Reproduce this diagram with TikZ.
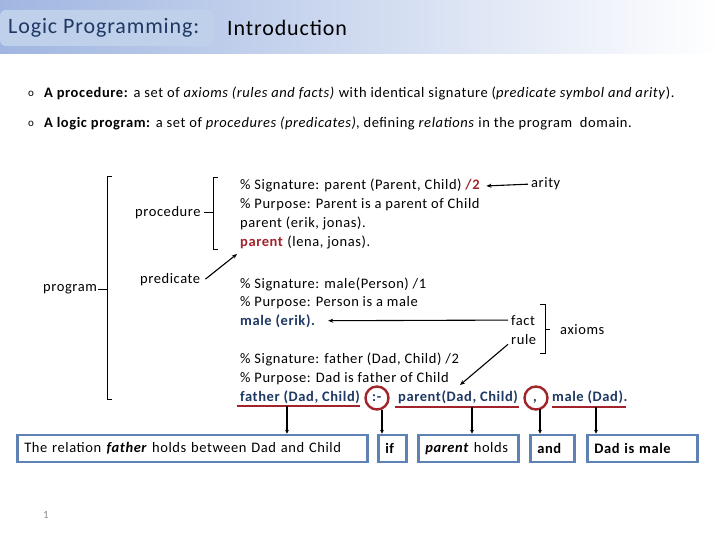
\documentclass[tikz,border=0pt]{standalone}
\usepackage{fontspec}
\setmainfont{Carlito}[LetterSpace=4]
\usetikzlibrary{arrows.meta}
\definecolor{navy}{HTML}{1F3864}
\definecolor{dred}{HTML}{A0242A}
\definecolor{bandL}{HTML}{A0B6E1}
\definecolor{tbox}{HTML}{BED0EA}
\definecolor{boxb}{HTML}{5F82B4}
\definecolor{pgray}{HTML}{8C8C8C}
\begin{document}
\begin{tikzpicture}[x=1pt,y=-1pt,
  txt/.style={font=\fontsize{14.5}{17}\selectfont, inner sep=0pt, anchor=base west},
  hl/.style={txt, font=\fontsize{14.5}{17}\selectfont\bfseries, text=navy},
  brk/.style={line width=0.8pt},
  arr/.style={line width=1.1pt, -{Stealth[length=5pt,width=4pt]}},
  varr/.style={line width=1.1pt, -{Stealth[length=4pt,width=4pt]}},
  uline/.style={dred, line width=2.6pt},
  ring/.style={dred, line width=2.4pt},
  expl/.style={draw=boxb, line width=2.6pt, fill=white, font=\fontsize{14.5}{17}\selectfont, inner xsep=7pt, inner ysep=0pt, minimum height=27pt, align=left, anchor=west},
]
\useasboundingbox (0,0) rectangle (720,540);
\fill[white] (0,0) rectangle (720,540);
% header
\shade[left color=bandL, right color=white] (0,0) rectangle (720,54);
\fill[tbox, rounded corners=6pt] (0,10) rectangle (214,46);
\node[font=\fontsize{22}{26}\selectfont, text=navy, anchor=west, inner sep=0pt] (t1) at (8,28) {Logic Programming:};
\node[font=\fontsize{22}{26}\selectfont, text=black, anchor=west, inner sep=0pt] (t2) at (227,28) {Introduction};
% bullets
\node[txt, font=\fontsize{11}{13}\selectfont] (o1) at (28,97) {o};
\node[txt] (b1) at (44,98) {\textbf{A procedure:} a set of \textit{axioms (rules and facts)} with identical signature (\textit{predicate symbol and arity}).};
\node[txt, font=\fontsize{11}{13}\selectfont] (o2) at (28,127) {o};
\node[txt] (b2) at (44,128) {\textbf{A logic program:} a set of \textit{procedures (predicates)}, defining \textit{relations} in the program\ \ domain.};
% labels
\node[txt] (prog) at (43,291) {program};
\node[txt] (proc) at (135,216) {procedure};
\node[txt] (pred) at (140,283) {predicate};
\node[txt] (arity) at (531,188) {arity};
\node[txt] (fact) at (511,325) {fact};
\node[txt] (rule) at (511,344) {rule};
\node[txt] (axioms) at (560,334) {axioms};
% code block 1
\node[txt] (s1) at (240,190) {\% Signature: parent (Parent, Child) \textcolor{dred}{\textbf{/2}}};
\node[txt] (p1) at (240,209) {\% Purpose: Parent is a parent of Child};
\node[txt] (f1) at (240,228) {parent (erik, jonas).};
\node[txt] (f2) at (240,247) {\textcolor{dred}{\textbf{parent}} (lena, jonas).};
% code block 2
\node[txt] (s2) at (240,288) {\% Signature: male(Person) /1};
\node[txt] (p2) at (240,306) {\% Purpose: Person is a male};
\node[hl] (me) at (240,325) {male (erik).};
% code block 3
\node[txt] (s3) at (240,363) {\% Signature: father (Dad, Child) /2};
\node[txt] (p3) at (240,382) {\% Purpose: Dad is father of Child};
\node[hl] (fa) at (240,401) {father (Dad, Child)};
\node[hl] (nk) at (372,401) {:-};
\node[hl] (pa) at (398,401) {parent(Dad, Child)};
\node[hl] (cm) at (533,401) {,};
\node[hl] (ma) at (552,401) {male (Dad).};
% brackets
\draw[brk] (112,176) -- (107,176) -- (107,399) -- (112,399);
\draw[brk] (98,289) -- (107,289);
\draw[brk] (218,177) -- (213,177) -- (213,249) -- (218,249);
\draw[brk] (204,212) -- (213,212);
\draw[brk] (540,304) -- (545,304) -- (545,353) -- (540,353);
\draw[brk] (545,329) -- (550,329);
% arrows
\coordinate (parTip) at (237,254);
\coordinate (ruleTip) at (460,385);
\draw[arr] ([xshift=5pt]pred.east) -- (parTip);
\draw[arr] ([xshift=-3pt]arity.west) -- ([xshift=6pt]s1.east);
\draw[arr] ([xshift=-3pt]fact.west) -- ([xshift=13pt]me.east);
\draw[arr] ([xshift=-3pt]rule.south west) -- (ruleTip);
% underlines and rings
\coordinate (u1) at (287,406);
\coordinate (u2) at (382,410);
\coordinate (u3) at (472,407);
\coordinate (u4) at (540,409);
\coordinate (u5) at (596,407);
\draw[uline] (237,406) -- (360,406);
\draw[uline] (395,407) -- (519,407);
\draw[uline] (552,407) -- (626,407);
\draw[ring] (377,398) circle[radius=11.5];
\draw[ring] (536,398) circle[radius=11.5];
% explanation boxes
\node[expl, text width=336pt] (x1) at (16,448.5) {The relation \textbf{\textit{father}} holds between Dad and Child};
\node[expl, text width=14pt] (x2) at (377,448.5) {\textbf{if}};
\node[expl, text width=86pt] (x3) at (417,448.5) {\textbf{\textit{parent}} holds};
\node[expl, text width=30pt] (x4) at (529,448.5) {\textbf{and}};
\node[expl, text width=96pt] (x5) at (586,448.5) {\textbf{Dad is male}};
\draw[varr] (u1) -- (u1 |- x1.north);
\draw[varr] (u2) -- (u2 |- x2.north);
\draw[varr] (u3) -- (u3 |- x3.north);
\draw[varr] (u4) -- (u4 |- x4.north);
\draw[varr] (u5) -- (u5 |- x5.north);
% page number
\node[font=\fontsize{11}{13}\selectfont, text=pgray, inner sep=0pt] (pg) at (46,515) {1};
\end{tikzpicture}
\end{document}
